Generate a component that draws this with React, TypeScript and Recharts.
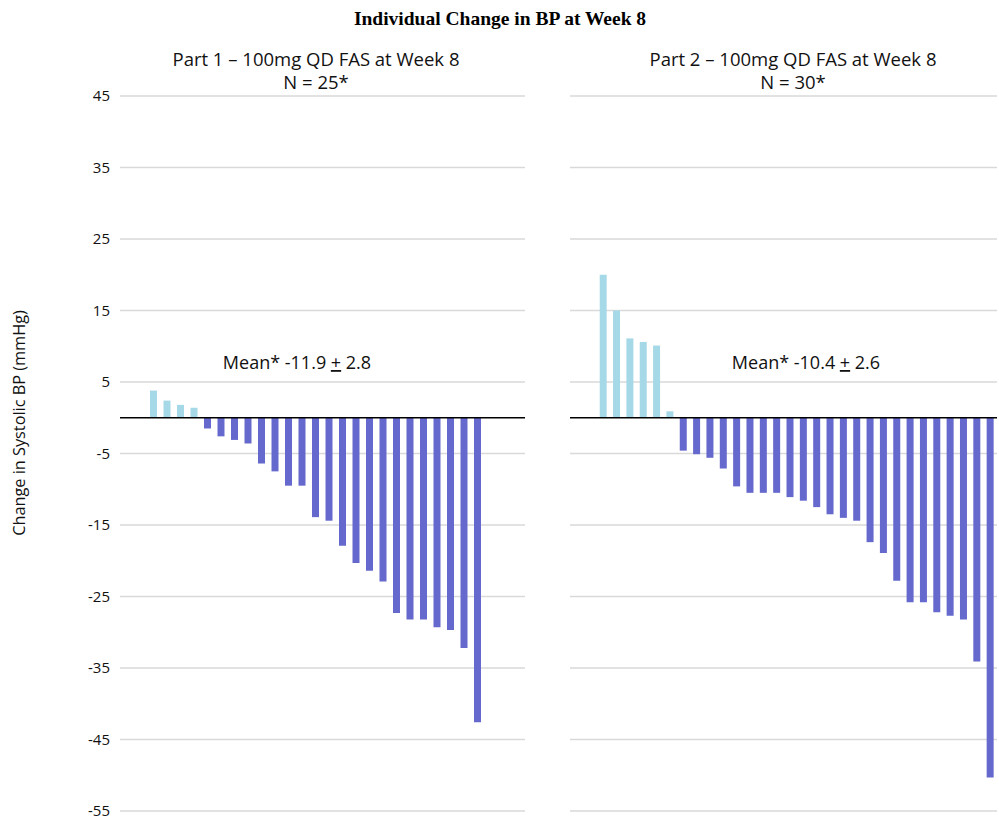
import { BarChart, Bar, XAxis, YAxis, CartesianGrid, ReferenceLine, Cell } from 'recharts'

const yTicks = [45, 35, 25, 15, 5, -5, -15, -25, -35, -45, -55]

// Part 1, 25 patients, sorted by change
const part1Changes = [
  3.8, 2.4, 1.8, 1.4, -1.5, -2.6, -3.1, -3.6, -6.4, -7.5, -9.5, -9.5, -13.9,
  -14.4, -17.9, -20.3, -21.4, -22.9, -27.3, -28.2, -28.2, -29.3, -29.7, -32.2,
  -42.6,
]

// Part 2, 30 patients
const part2Changes = [
  20.0, 15.0, 11.1, 10.6, 10.1, 0.9, -4.6, -5.1, -5.6, -7.1, -9.6, -10.5, -10.5,
  -10.5, -11.1, -11.6, -12.5, -13.5, -14.0, -14.4, -17.4, -18.9, -22.8, -25.8,
  -25.8, -27.2, -27.7, -28.2, -34.1, -50.3,
]

const title = 'Individual Change in BP at Week 8'
const part1Title = 'Part 1 \u2013 100mg QD FAS at Week 8'
const part2Title = 'Part 2 \u2013 100mg QD FAS at Week 8'
const part1N = 'N = 25*'
const part2N = 'N = 30*'
const part1Mean = ['Mean* -11.9 ', '+', ' 2.8']
const part2Mean = ['Mean* -10.4 ', '+', ' 2.6']
const yLabel = 'Change in Systolic BP (mmHg)'

const UP = '#a6d9e7'
const DOWN = '#6568cc'
const FONT = '"Open Sans", sans-serif'

const toRows = (values: number[]) =>
  values.map((v, i) => ({ id: `P${i + 1}`, value: v }))

export default function App() {
  const rows1 = toRows(part1Changes)
  const rows2 = toRows(part2Changes)

  return (
    <div style={{ position: 'relative', width: 999, height: 819, background: '#fff' }}>
      <style>{`body{margin:0}`}</style>

      <div style={{ position: 'absolute', left: 0, top: 0 }}>
        <BarChart
          width={540}
          height={819}
          data={rows1}
          margin={{ top: 96, right: 15, bottom: 8, left: 0 }}
        >
          <CartesianGrid horizontal vertical={false} stroke="#d9d9d9" strokeWidth={1.3} />
          <XAxis dataKey="id" hide padding={{ left: 27, right: 40.5 }} />
          <YAxis
            width={120}
            domain={[-55, 45]}
            ticks={yTicks}
            interval={0}
            axisLine={false}
            tickLine={false}
            tickSize={0}
            tickMargin={10}
            tick={{ fontSize: 15, fill: '#111', fontFamily: FONT }}
          />
          <Bar dataKey="value" barSize={7} isAnimationActive={false}>
            {rows1.map((r) => (
              <Cell key={r.id} fill={r.value >= 0 ? UP : DOWN} />
            ))}
          </Bar>
          <ReferenceLine y={0} stroke="#000" strokeWidth={1.5} />
        </BarChart>
      </div>

      <div style={{ position: 'absolute', left: 540, top: 0 }}>
        <BarChart
          width={459}
          height={819}
          data={rows2}
          margin={{ top: 96, right: 2, bottom: 8, left: 30 }}
        >
          <CartesianGrid horizontal vertical={false} stroke="#d9d9d9" strokeWidth={1.3} />
          <XAxis dataKey="id" hide padding={{ left: 26.7, right: 0 }} />
          <YAxis hide domain={[-55, 45]} ticks={yTicks} />
          <Bar dataKey="value" barSize={7} isAnimationActive={false}>
            {rows2.map((r) => (
              <Cell key={r.id} fill={r.value >= 0 ? UP : DOWN} />
            ))}
          </Bar>
          <ReferenceLine y={0} stroke="#000" strokeWidth={1.5} />
        </BarChart>
      </div>

      <svg
        width={999}
        height={819}
        style={{ position: 'absolute', left: 0, top: 0, pointerEvents: 'none' }}
      >
        <text
          x={500}
          y={25}
          textAnchor="middle"
          fontFamily='"Liberation Serif", serif'
          fontWeight="bold"
          fontSize={19.5}
          fill="#000"
        >
          {title}
        </text>
        <g fontFamily={FONT} fontSize={18.5} fill="#111" textAnchor="middle">
          <text x={316} y={66}>{part1Title}</text>
          <text x={316} y={89}>{part1N}</text>
          <text x={793} y={66}>{part2Title}</text>
          <text x={793} y={89}>{part2N}</text>
          <text x={297} y={369} fontSize={18}>
            {part1Mean[0]}
            <tspan textDecoration="underline">{part1Mean[1]}</tspan>
            {part1Mean[2]}
          </text>
          <text x={806} y={369} fontSize={18}>
            {part2Mean[0]}
            <tspan textDecoration="underline">{part2Mean[1]}</tspan>
            {part2Mean[2]}
          </text>
          <text x={25} y={423} transform="rotate(-90 25 423)" fontSize={16.3}>
            {yLabel}
          </text>
        </g>
      </svg>
    </div>
  )
}
